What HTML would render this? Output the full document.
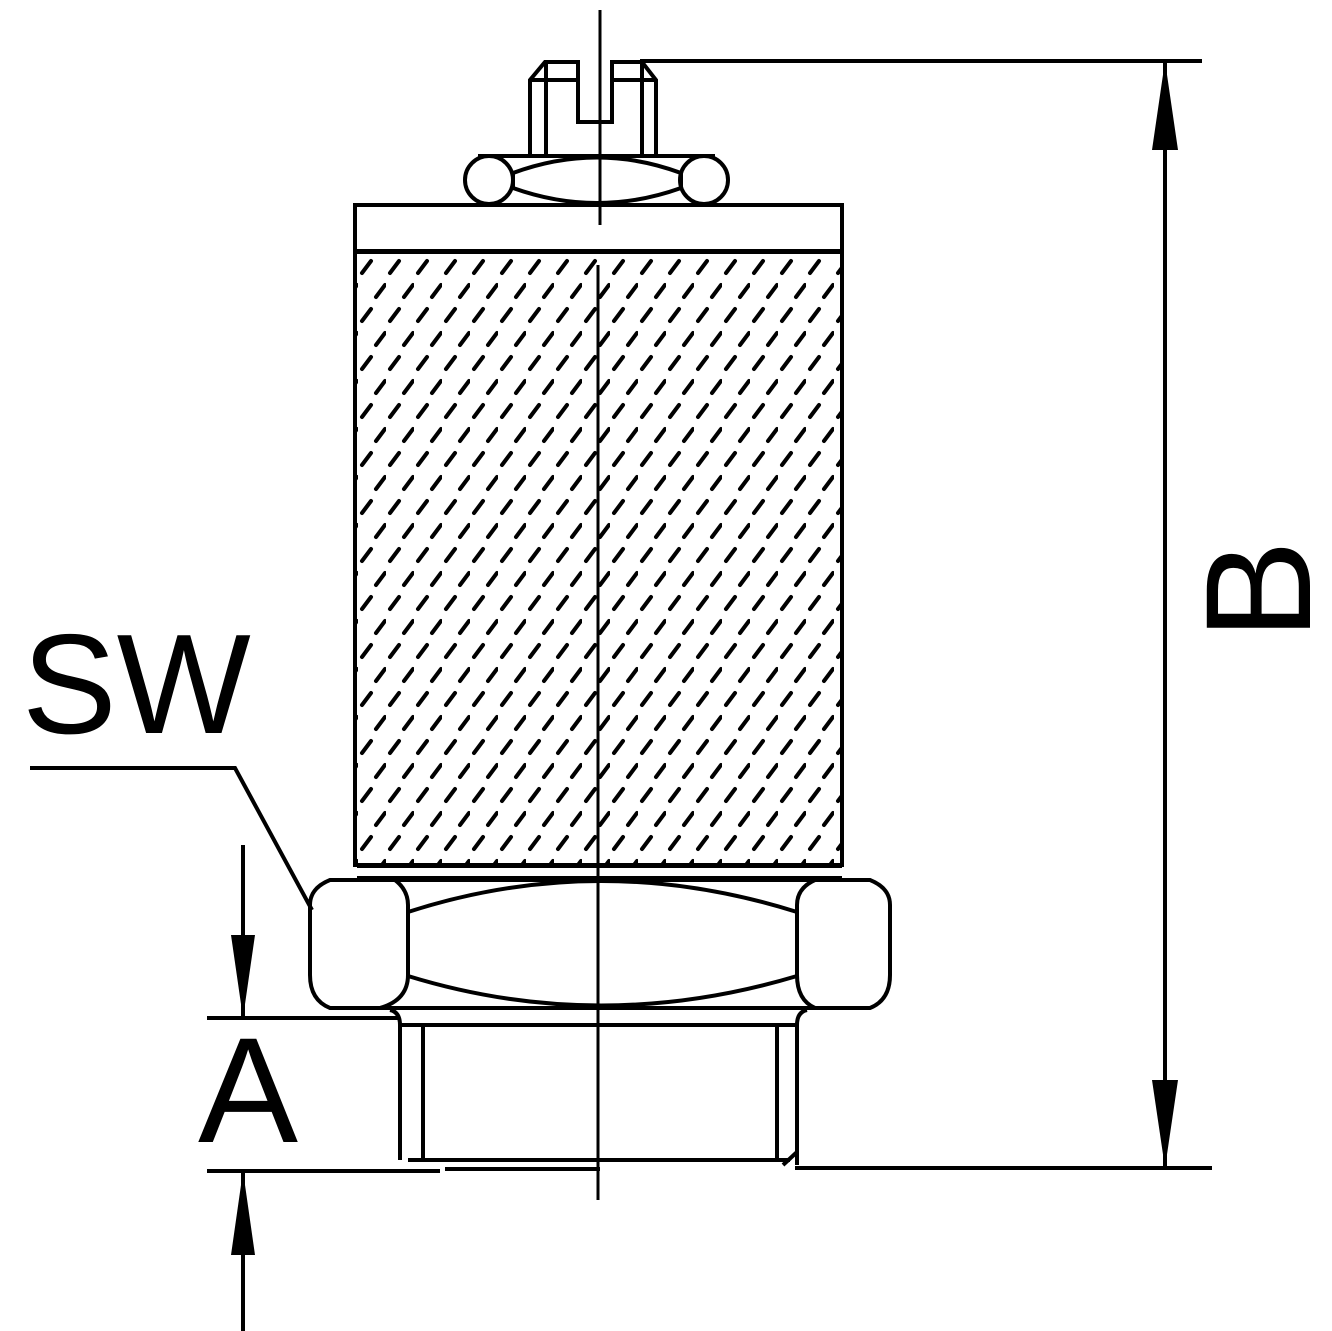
<!DOCTYPE html>
<html><head><style>html,body{margin:0;padding:0;background:#fff}svg{display:block}</style></head>
<body>
<svg width="1332" height="1331" viewBox="0 0 1332 1331" xmlns="http://www.w3.org/2000/svg">
<defs>
<pattern id="h" width="28" height="48" patternUnits="userSpaceOnUse" x="358" y="255">
<path d="M4 18 L13 6 M18 42 L27 30" stroke="#000" stroke-width="4" stroke-linecap="round" fill="none"/>
</pattern>
</defs>
<g fill="none" stroke="#000" stroke-width="4">
<path d="M530 155 V80 L545 62 H578 V122 H612 V62 H642 L656 80 V155"/>
<path d="M546 62 V155 M642 62 V155 M530 80 H578 M612 80 H656"/>
<circle cx="489" cy="180" r="24"/>
<circle cx="704" cy="180" r="24"/>
<path d="M478 156 H715 M450 205 H745"/>
<path d="M513 173 Q597 142 681 173 M513 188 Q597 218 681 188 M513 173 V188 M681 173 V188"/>
<rect x="355" y="205" width="487" height="46"/>
<rect x="355" y="252" width="487" height="613" fill="url(#h)"/>
<path d="M357 866 H842 M357 878 H842"/>
<path d="M330 880 H395 Q408 890 408 905 V975 Q408 1000 380 1008 H330 Q310 1000 310 975 V905 Q310 888 330 880 Z"/>
<path d="M815 880 H870 Q890 888 890 905 V975 Q890 1000 870 1008 H815 Q797 1000 797 975 V905 Q797 888 815 880 Z"/>
<path d="M360 880 H842 M360 1008 H840"/>
<path d="M408 912 Q600 850 797 912 M408 976 Q600 1035 797 976"/>
<path d="M390 1010 Q400 1012 400 1025 V1160 M807 1010 Q797 1012 797 1025 V1165 M400 1025 H797"/>
<path d="M423 1025 V1162 M777 1025 V1162"/>
<path d="M408 1160 H790 M783 1165 L797 1152"/>
<path d="M600 10 V225 M598 265 V1200" stroke-width="3"/>
</g>
<g stroke="#000" stroke-width="4" fill="none">
<path d="M640 61 H1202 M795 1168 H1212 M1165 61 V1168"/>
<path d="M207 1018 H400 M207 1171 H440 M445 1169 H600"/>
<path d="M243 845 V1018 M243 1171 V1331"/>
<path d="M30 768 H235 L312 910"/>
</g>
<g fill="#000">
<path d="M1165 61 L1152 150 H1178 Z"/>
<path d="M1165 1168 L1152 1080 H1178 Z"/>
<path d="M243 1018 L231 935 H255 Z"/>
<path d="M243 1171 L231 1255 H255 Z"/>
</g>
<g font-family="Liberation Sans, sans-serif" fill="#000">
<text x="22" y="733" font-size="142">SW</text>
<text x="198" y="1142" font-size="150">A</text>
<text x="1310" y="640" font-size="150" transform="rotate(-90 1310 640)">B</text>
</g>
</svg>
</body></html>
